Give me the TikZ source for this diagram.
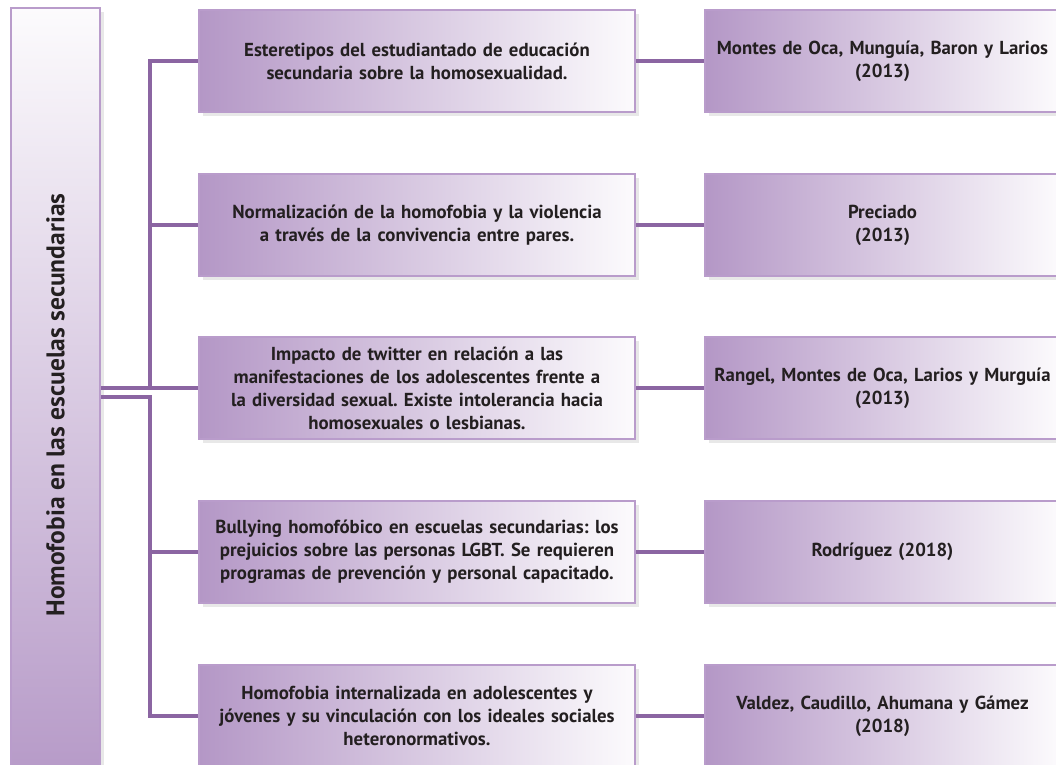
\documentclass[tikz,border=0pt]{standalone}
\usepackage{fontspec}
\setmainfont{PT Sans}
\usetikzlibrary{shadows}

\definecolor{lila}{HTML}{B497C6}
\definecolor{lilaborde}{HTML}{B99CCB}
\definecolor{lilalinea}{HTML}{8B65A2}
\definecolor{texto}{HTML}{231F20}

\tikzset{
  caja/.style={draw=lilaborde, line width=2pt, left color=lila, right color=white!96!lila,
    minimum width=436pt, minimum height=102pt, text width=430pt, align=center,
    inner sep=0pt, text=texto, font=\bfseries\fontsize{18.8}{23}\selectfont,
    drop shadow={opacity=0.18, shadow xshift=4pt, shadow yshift=-4pt}},
  autor/.style={caja, minimum width=355pt, text width=350pt},
  linea/.style={draw=lilalinea, line width=4pt}
}

\begin{document}
\frenchspacing
\begin{tikzpicture}[x=1pt,y=-1pt]
        \clip (0,0) rectangle (1056,764);
        \fill[white] (0,0) rectangle (1056,764);
        % tema
        \node[draw=lilaborde, line width=2pt, top color=white!96!lila, bottom color=lila,
          minimum width=89pt, minimum height=794pt, inner sep=0pt,
          drop shadow={opacity=0.18, shadow xshift=4pt, shadow yshift=-4pt}] (tema) at (55.5,405) {};
        \node[rotate=90, text=texto, font=\bfseries\fontsize{25.5}{30}\selectfont] (titulo) at (tema.center) {Homofobia en las escuelas secundarias};
        % estudios
        \node[caja] (c1) at (417,61) {Esteretipos del estudiantado de educación\\ secundaria sobre la homosexualidad.};
        \node[caja] (c2) at (417,225) {Normalización de la homofobia y la violencia\\ a través de la convivencia entre pares.};
        \node[caja] (c3) at (417,388) {Impacto de twitter en relación a las\\ manifestaciones de los adolescentes frente a\\ la diversidad sexual. Existe intolerancia hacia\\ homosexuales o lesbianas.};
        \node[caja] (c4) at (417,552) {Bullying homofóbico en escuelas secundarias: los\\ prejuicios sobre las personas LGBT. Se requieren\\ programas de prevención y personal capacitado.};
        \node[caja] (c5) at (417,716) {Homofobia internalizada en adolescentes y\\ jóvenes y su vinculación con los ideales sociales\\ heteronormativos.};
        % autores
        \node[autor] (a1) at (882.5,61) {Montes de Oca, Munguía, Baron y Larios\\ (2013)};
        \node[autor] (a2) at (882.5,225) {Preciado\\ (2013)};
        \node[autor] (a3) at (882.5,388) {Rangel, Montes de Oca, Larios y Murguía\\ (2013)};
        \node[autor] (a4) at (882.5,552) {Rodríguez (2018)};
        \node[autor] (a5) at (882.5,716) {Valdez, Caudillo, Ahumana y Gámez\\ (2018)};
        % lineas
        \coordinate (ja) at (149.5,388);
        \coordinate (jb) at (149.5,397);
        \draw[linea] (c1.west) -| (ja);
        \draw[linea] (c2.west) -- (c2.west -| ja);
        \draw[linea] (tema.east |- c3.west) -- (c3.west);
        \draw[linea] (tema.east |- jb) -- (jb) |- (c5.west);
        \draw[linea] (c4.west) -- (c4.west -| jb);
        \draw[linea] (c1.east) -- (a1.west);
        \draw[linea] (c2.east) -- (a2.west);
        \draw[linea] (c3.east) -- (a3.west);
        \draw[linea] (c4.east) -- (a4.west);
        \draw[linea] (c5.east) -- (a5.west);
      \end{tikzpicture}
\end{document}
